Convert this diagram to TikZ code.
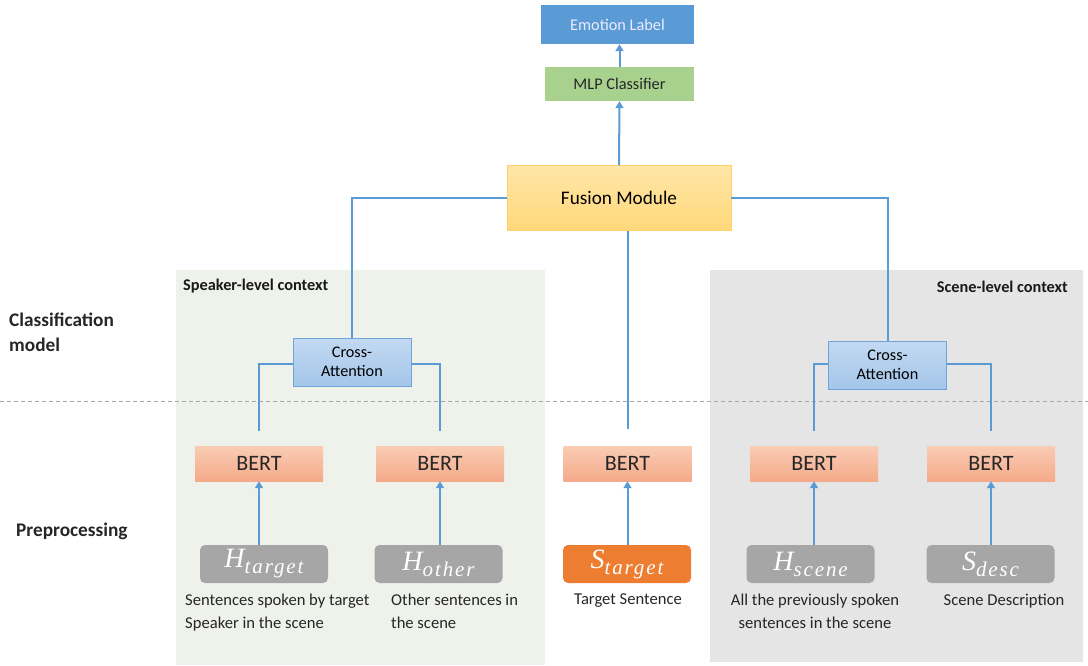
\documentclass[tikz,border=0pt]{standalone}
\usepackage{fontspec}
\setmainfont{Carlito}
\newfontfamily\serifface{Liberation Serif}
\newfontfamily\serifsub{Liberation Serif}[LetterSpace=9]
\usetikzlibrary{arrows.meta,calc}
\definecolor{lineblue}{HTML}{5B9BD5}
\definecolor{emoblue}{HTML}{5B9BD5}
\definecolor{mlpgreen}{HTML}{A9D18E}
\definecolor{fusyel}{HTML}{FFD87A}
\definecolor{fusyelT}{HTML}{FFE6A8}
\definecolor{cablue}{HTML}{A4C6EA}
\definecolor{cablueT}{HTML}{C2D9F2}
\definecolor{caborder}{HTML}{6FA3DA}
\definecolor{bertS}{HTML}{F4AA8A}
\definecolor{bertT}{HTML}{F9CCB4}
\definecolor{ingray}{HTML}{A6A6A6}
\definecolor{inorange}{HTML}{ED7D31}
\definecolor{spkpanel}{HTML}{EEF2EB}
\definecolor{scnpanel}{HTML}{E5E5E5}
\definecolor{dashgray}{HTML}{A8A8A8}
\newcommand\inlabel[2]{{\serifface\itshape\fontsize{28}{30}\selectfont #1}\raisebox{-6pt}{\serifsub\itshape\fontsize{21}{22}\selectfont #2}}
\tikzset{
  conn/.style={draw=lineblue, line width=2pt},
  arr/.style={draw=lineblue, line width=2pt, -{Triangle[length=7pt,width=8pt]}},
  emobox/.style={fill=emoblue, text=white!92!blue, minimum width=153pt, minimum height=39pt, font=\fontsize{16.3}{18}\selectfont, inner sep=0pt},
  mlpbox/.style={fill=mlpgreen, text=black!85, minimum width=149pt, minimum height=34pt, font=\fontsize{16.3}{18}\selectfont, inner sep=0pt},
  fusbox/.style={top color=fusyelT, bottom color=fusyel, draw=fusyel!90!orange, minimum width=224pt, minimum height=65pt, font=\fontsize{19.2}{22}\selectfont, inner sep=0pt},
  cabox/.style={top color=cablueT, bottom color=cablue, draw=caborder, line width=0.8pt, minimum width=118pt, minimum height=48pt, font=\fontsize{16.2}{19}\selectfont, align=center, inner sep=0pt},
  bertbox/.style={top color=bertT, bottom color=bertS, minimum width=128pt, minimum height=35pt, font=\fontsize{22}{24}\selectfont, text=black!85, inner sep=0pt},
  inbox/.style={fill=ingray, rounded corners=5pt, minimum width=128pt, minimum height=38pt, text=white, inner sep=0pt},
  inobox/.style={inbox, fill=inorange},
  caption/.style={font=\fontsize{16.6}{22.5}\selectfont, text=black!85, inner sep=0pt},
  paneltitle/.style={font=\fontsize{16.3}{18}\selectfont\bfseries, text=black!90, inner sep=0pt},
  sidelabel/.style={font=\fontsize{19.3}{25}\selectfont\bfseries, text=black!85, inner sep=0pt, align=left},
}
\begin{document}
\begin{tikzpicture}[x=1pt,y=-1pt]
\useasboundingbox (0,0) rectangle (1088,665);
% panels
\fill[spkpanel] (176,270) rectangle (545,665);
\fill[scnpanel] (710,270) rectangle (1083,662);
% dashed separator
\draw[dashgray, line width=1pt, dash pattern=on 4pt off 3pt] (0,401) -- (1088,401);

% top nodes
\node[emobox] (emo) at (617.5,24.5) {Emotion Label};
\node[mlpbox] (mlp) at (619.5,84) {MLP Classifier};
\node[fusbox] (fus) at (619,198) {Fusion Module};

% cross attention
\node[cabox] (caL) at (352,362) {Cross-\\Attention};
\node[cabox] (caR) at (887.5,365) {Cross-\\Attention};

% BERT boxes
\node[bertbox] (b1) at (259,463.5) {BERT};
\node[bertbox] (b2) at (440,463.5) {BERT};
\node[bertbox] (b3) at (627.5,463.5) {BERT};
\node[bertbox] (b4) at (814,463.5) {BERT};
\node[bertbox] (b5) at (991,463.5) {BERT};

% inputs
\node[inbox] (i1) at (264,564) {\inlabel{H}{target}};
\node[inbox] (i2) at (438.5,564) {\inlabel{H}{other}};
\node[inobox] (i3) at (627,564) {\inlabel{S}{target}};
\node[inbox] (i4) at (810.5,564) {\inlabel{H}{scene}};
\node[inbox] (i5) at (990.5,564) {\inlabel{S}{desc}};

% captions
\node[caption, anchor=north west, align=left] (c1) at (185,594) {Sentences spoken by target\\Speaker in the scene};
\node[caption, anchor=north west, align=left] (c2) at (391,594) {Other sentences in\\the scene};
\node[caption, anchor=north] (c3) at (628,594) {Target Sentence};
\node[caption, anchor=north, align=center] (c4) at (815,594) {All the previously spoken\\sentences in the scene};
\node[caption, anchor=north] (c5) at (1004,594) {Scene Description};

% panel titles and side labels
\node[paneltitle, anchor=west] (t1) at (183,286) {Speaker-level context};
\node[paneltitle, anchor=east] (t2) at (1068,287) {Scene-level context};
\node[sidelabel, anchor=north west] (s1) at (9,313) {Classification\\model};
\node[sidelabel, anchor=west] (s2) at (16,531) {Preprocessing};

% connectors
\draw[arr] (mlp.north) -- (mlp.north |- emo.south);
\draw[arr] (fus.north) -- (mlp.south);
\draw[conn] (fus.west) -| (caL.north);
\draw[conn] (fus.east) -| (caR.north);
\draw[conn] (b3.north |- fus.south) -- ([yshift=17pt]b3.north);
\draw[conn] ([yshift=-2pt]caL.west) -| ([yshift=15pt]b1.north);
\draw[conn] ([yshift=-2pt]caL.east) -| ([yshift=15pt]b2.north);
\draw[conn] ([yshift=1pt]caR.west) -| ([yshift=15pt]b4.north);
\draw[conn] ([yshift=1pt]caR.east) -| ([yshift=15pt]b5.north);
\draw[arr] (i1.north -| b1.south) -- (b1.south);
\draw[arr] (i2.north -| b2.south) -- (b2.south);
\draw[arr] (i3.north -| b3.south) -- (b3.south);
\draw[arr] (i4.north -| b4.south) -- (b4.south);
\draw[arr] (i5.north -| b5.south) -- (b5.south);
\end{tikzpicture}
\end{document}
